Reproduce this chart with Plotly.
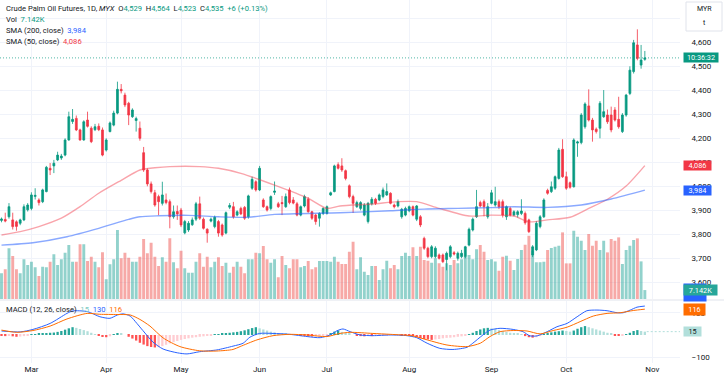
import pandas as pd
import plotly.graph_objects as go

# ---------------- data ----------------
opens = [3858,3862,3873,3860,3852,3846,3860,3902,3908,3958,
         3943,3936,3978,4075,4085,4110,4118,4130,4193,4270,
         4283,4235,4193,4276,4242,4236,4250,4235,4151,4228,
         4255,4305,4404,4380,4346,4290,4274,4242,4140,4068,
         4010,3973,3957,3929,3943,3936,3873,3895,3901,3806,
         3818,3840,3863,3927,3863,3821,3855,3832,3853,3839,
         3805,3913,3915,3880,3908,3912,3873,3992,4019,3985,
         3943,3915,3908,3975,3927,3932,3915,3985,3943,3927,
         3880,3918,3946,3894,3880,3867,3887,3887,3964,3978,
         4090,4085,4065,4002,3957,3915,3908,3880,3853,3927,
         3946,3943,3957,3964,3971,3922,3918,3873,3880,3898,
         3915,3863,3873,3783,3742,3707,3707,3714,3714,3695,
         3707,3723,3700,3707,3707,3755,3818,3873,3932,3936,
         3873,3929,3922,3936,3936,3873,3908,3880,3882,3887,
         3887,3860,3714,3735,3832,3873,3983,3978,3992,4033,
         4154,4040,4015,3998,4180,4182,4248,4335,4276,4238,
         4242,4290,4297,4297,4318,4279,4228,4297,4387,4478,
         4589,4505,4529]
highs = [3870,3890,3930,3890,3858,3865,3925,3930,3975,3992,
         3950,3990,4085,4097,4110,4144,4135,4200,4311,4322,
         4295,4240,4275,4311,4250,4260,4262,4245,4200,4270,
         4315,4436,4426,4390,4352,4325,4290,4270,4164,4075,
         4020,3985,3965,4019,3970,3945,3920,3920,3910,3860,
         3855,3870,3935,3957,3870,3825,3870,3878,3860,3845,
         3895,3930,3935,3900,3915,3918,3965,4040,4025,4085,
         3950,3920,3962,4020,3935,3960,3970,3995,3955,3935,
         3920,3965,3955,3898,3885,3892,3912,3920,3978,4090,
         4100,4117,4070,4008,3965,3940,3938,3930,3935,3955,
         3952,3970,3995,4012,3975,3928,3945,3910,3915,3920,
         3920,3922,3880,3790,3748,3755,3750,3720,3720,3728,
         3755,3730,3728,3735,3752,3828,3870,3985,3940,3945,
         3930,3985,3998,3945,3945,3920,3915,3900,3900,3946,
         3895,3865,3755,3855,3880,3950,3990,4020,4045,4160,
         4196,4061,4020,4200,4190,4305,4350,4404,4285,4245,
         4355,4401,4320,4332,4330,4373,4305,4385,4500,4610,
         4654,4589,4564]
lows = [3850,3850,3865,3820,3815,3838,3855,3895,3900,3945,
        3920,3930,3975,4047,4055,4105,4110,4125,4190,4260,
        4230,4190,4190,4245,4180,4230,4230,4125,4145,4225,
        4250,4300,4387,4330,4255,4285,4228,4190,4060,4000,
        3970,3915,3880,3920,3925,3825,3865,3860,3830,3800,
        3810,3835,3855,3860,3820,3765,3850,3825,3790,3790,
        3800,3905,3865,3875,3880,3860,3865,3985,3978,3980,
        3910,3895,3900,3964,3910,3880,3910,3925,3925,3875,
        3875,3912,3890,3860,3840,3832,3880,3882,3960,3975,
        4070,4060,4025,3950,3889,3910,3900,3875,3845,3920,
        3922,3938,3950,3960,3925,3908,3912,3865,3875,3892,
        3875,3855,3830,3735,3700,3700,3700,3695,3680,3650,
        3700,3712,3690,3700,3700,3750,3812,3868,3912,3875,
        3865,3925,3915,3905,3870,3860,3875,3875,3870,3880,
        3840,3805,3705,3730,3825,3868,3965,3972,3985,4028,
        4035,3985,3990,3995,4123,4175,4240,4270,4186,4220,
        4200,4285,4260,4225,4270,4240,4222,4290,4380,4470,
        4525,4490,4523]
closes = [3864,3855,3915,3832,3833,3860,3915,3922,3964,3962,
          3932,3985,4079,4068,4096,4130,4126,4193,4290,4279,
          4235,4193,4269,4250,4186,4248,4236,4130,4193,4264,
          4305,4404,4398,4339,4297,4318,4282,4200,4068,4010,
          3978,3922,3936,3964,3932,3873,3894,3885,3839,3853,
          3846,3860,3927,3867,3825,3805,3863,3871,3805,3797,
          3890,3920,3873,3894,3885,3867,3960,4029,3985,4075,
          3915,3901,3957,3980,3915,3928,3957,3932,3930,3880,
          3915,3957,3894,3867,3853,3887,3908,3915,3973,4085,
          4075,4068,4033,3957,3929,3932,3932,3922,3929,3946,
          3929,3964,3985,3978,3929,3915,3936,3904,3908,3915,
          3880,3918,3839,3742,3707,3748,3742,3700,3686,3721,
          3748,3718,3721,3721,3748,3821,3863,3915,3918,3915,
          3915,3973,3936,3915,3880,3915,3880,3894,3894,3897,
          3848,3811,3748,3846,3873,3943,3971,3998,4040,4151,
          4040,3992,3996,4193,4185,4297,4343,4276,4235,4228,
          4346,4311,4269,4235,4276,4248,4297,4380,4484,4598,
          4533,4526,4535]
volumes_k = [20.6,23.8,40.6,34.4,23.8,20.6,31.8,27.2,29.8,25.4,
             18.4,25.8,25.4,29.8,35.8,27.2,31.8,37.0,43.2,29.8,
             29.8,43.8,43.8,30.4,33.8,29.8,25.4,37.4,15.8,27.8,
             31.8,55.2,32.6,37.0,33.0,29.8,29.8,33.8,48.0,36.6,
             45.0,33.8,26.4,33.4,29.8,48.6,29.4,24.6,38.6,24.6,
             21.0,21.0,29.8,36.6,25.8,33.8,25.4,29.8,33.4,26.4,
             29.0,21.0,25.8,29.8,25.8,20.6,31.8,31.8,37.0,36.6,
             42.4,31.8,29.0,31.8,17.4,34.4,27.2,24.6,31.8,31.8,
             25.4,26.4,30.4,23.8,25.4,30.4,30.4,30.4,29.8,33.8,
             29.8,28.0,28.0,37.8,45.8,23.8,33.4,21.8,19.2,26.4,
             26.4,15.2,23.8,30.6,24.6,27.2,23.8,34.4,37.0,34.4,
             41.4,34.4,41.8,31.2,30.6,29.0,32.6,28.6,25.8,28.6,
             27.2,31.2,28.6,31.8,33.8,35.2,31.8,39.8,43.2,37.8,
             31.2,31.8,30.0,22.6,33.8,34.6,30.6,23.2,32.0,39.2,
             43.4,50.6,38.6,29.4,29.4,29.8,39.2,40.8,41.8,42.6,
             53.3,28.5,28.5,54.6,49.8,46.6,39.2,52.0,42.6,46.6,
             39.2,46.6,37.3,48.0,46.6,49.3,28.0,39.2,42.6,47.2,
             48.5,30.1,7.142]
macd_hist = [-4,-5,-3,-6,-8,-7,-5,-3,2,4,
             6,7,9,10,11,14,18,24,30,35,
             32,27,22,17,10,4,-4,-9,-10,-6,
             2,6,5,0,-8,-16,-25,-35,-43,-50,
             -54,-56,-55,-50,-44,-38,-32,-27,-22,-18,
             -15,-12,-10,-8,-6,-4,-2,2,4,6,
             8,10,12,14,17,21,26,31,35,30,
             25,20,15,12,9,7,5,3,2,0,
             -2,-4,-6,-7,-6,-5,-3,-1,8,15,
             20,14,9,5,0,-3,-5,-6,-4,-5,
             -4,-3,-2,-1,0,1,0,-1,-2,-3,
             -5,-10,-15,-18,-20,-22,-20,-18,-15,-13,
             -12,-10,-8,-6,-3,3,10,18,25,30,
             32,30,27,22,18,14,10,7,5,3,
             -5,-10,-12,-10,-5,3,8,12,15,17,
             20,18,15,20,28,35,40,35,30,25,
             20,15,10,5,-2,-4,-3,3,10,18,
             22,18,15]

# indicator lines, read at points along the bar index
sma50_x = [0,5,10,16,21,26,32,37,41,45,53,58,64,73,82,87,90.5,99,106,111,117,125,131,137,141,146,152,157,162,167,172]
sma50_v = [3797,3811,3832,3867,3915,3971,4025,4068,4077,4082,4082,4075,4054,4005,3950,3908,3918,3926,3936,3936,3908,3876,3880,3876,3852,3860,3871,3908,3946,4001,4086]
sma200_x = [0,8.4,17.5,26,34,37,42,50,58,66,73,90.5,104,113,122,131,137,146,155,163,172]
sma200_v = [3755,3765,3790,3825,3862,3873,3877,3879,3873,3871,3883,3890,3898,3905,3908,3911,3915,3912,3922,3947,3984]
macd_x = [0,5,8.4,13,17.5,19,23,26.3,29,31,32.5,34.4,36.2,37.8,40.5,43.2,47,49.6,53,57.6,61.9,64.6,66.4,69,72.6,77,81.7,85.2,87.8,89.7,91.3,93.2,95.9,99.3,103.9,108.4,111,113.8,117.2,120.7,124.5,126,128.7,130.6,133.3,136.8,139.4,141.3,143.2,145.9,148.5,151.2,153.9,156.5,159.2,161.9,164.6,166.2,168.1,169.9,172]
macd_v = [18,14,25,52,97,108,105,82,75,90,95,85,52,20,-32,-63,-80,-85,-75,-67,-50,-37,-10,7,7,3,-7,-12,0,19,27,15,0,-3,0,-3,-12,-37,-60,-65,-55,-37,0,22,30,25,15,-4,-4,15,37,52,82,109,112,109,100,100,112,125,130]
signal_x = [0,4.1,8.4,13,17.5,22.9,26.3,30.9,34.4,37,39.7,43.2,47.7,53,57.6,61.9,63.8,68.3,72.6,77.1,81.7,87,90.5,93.2,99.3,103.9,110,113.8,119.1,124.5,128,130.6,133.3,136.8,140.5,144,147.5,151.2,154.7,158.2,161.9,165.4,168.9,172]
signal_v = [22,12,20,40,72,97,93,92,90,70,40,-13,-52,-71,-72,-65,-52,-22,-3,3,0,-7,7,12,7,3,-4,-22,-45,-52,-37,-7,15,20,18,5,20,35,60,85,97,100,110,116]

holidays = ["2024-03-28","2024-04-10","2024-04-11","2024-05-01","2024-05-22",
            "2024-06-03","2024-06-17","2024-07-08","2024-09-16"]

# ---------------- styling ----------------
UP, DN = "#089981", "#f23645"
TXT = "#131722"
GRID = "#f0f3fa"
FONT = "Roboto"

n = len(closes)
idx = list(range(n))
hol = set(pd.to_datetime(holidays))
days = [d for d in pd.bdate_range("2024-02-20", "2024-10-30") if d not in hol][:n]
tickvals, ticktext = [], []
for i in range(1, len(days)):
    if days[i].month != days[i - 1].month:
        tickvals.append(i)
        ticktext.append(days[i].strftime("%b"))
tickvals.append(n + 1)
ticktext.append("Nov")

vol_colors = ["rgba(38,166,154,0.5)" if c >= o else "rgba(239,83,80,0.5)" for o, c in zip(opens, closes)]
hist_colors = []
prev = 0
for h in macd_hist:
    if h >= 0:
        hist_colors.append("#26a69a" if h > prev else "#b2dfdb")
    else:
        hist_colors.append("#ff5252" if h < prev else "#ffcdd2")
    prev = h

PH = 363.0   # plot area height in px
PW = 680.0   # plot area width in px
def py(p):
    return (PH - p) / PH
def pxp(p):
    return p / PW

fig = go.Figure()
fig.add_trace(go.Bar(x=idx, y=volumes_k, marker=dict(color=vol_colors, line=dict(width=0)),
                     width=0.78, xaxis="x", yaxis="y", hoverinfo="skip"))
fig.add_trace(go.Candlestick(x=idx, open=opens, high=highs, low=lows, close=closes,
                             increasing=dict(line=dict(color=UP, width=0.8), fillcolor=UP),
                             decreasing=dict(line=dict(color=DN, width=0.8), fillcolor=DN),
                             whiskerwidth=0, xaxis="x", yaxis="y2", hoverinfo="skip"))
fig.add_trace(go.Scatter(x=sma50_x, y=sma50_v, mode="lines", xaxis="x", yaxis="y2",
                         line=dict(color="rgba(242,54,69,0.45)", width=1.4, shape="spline", smoothing=0.7)))
fig.add_trace(go.Scatter(x=sma200_x, y=sma200_v, mode="lines", xaxis="x", yaxis="y2",
                         line=dict(color="rgba(41,98,255,0.55)", width=1.4, shape="spline", smoothing=0.7)))
fig.add_trace(go.Bar(x=idx, y=macd_hist, marker=dict(color=hist_colors, line=dict(width=0)),
                     width=0.62, xaxis="x2", yaxis="y3", hoverinfo="skip"))
fig.add_trace(go.Scatter(x=macd_x, y=macd_v, mode="lines", xaxis="x2", yaxis="y3",
                         line=dict(color="#2962ff", width=1, shape="spline", smoothing=0.7)))
fig.add_trace(go.Scatter(x=signal_x, y=signal_v, mode="lines", xaxis="x2", yaxis="y3",
                         line=dict(color="#ff6d00", width=1, shape="spline", smoothing=0.7)))

xr = [-0.4, 181.4]
tf = dict(family=FONT, size=8, color=TXT)
fig.update_layout(
    width=724, height=377,
    margin=dict(l=0, r=44, t=0, b=14),
    paper_bgcolor="white", plot_bgcolor="white",
    showlegend=False, font=dict(family=FONT, color=TXT),
    bargap=0.2,
    xaxis=dict(domain=[0, 1], anchor="y", range=xr, tickvals=tickvals, showticklabels=False,
               showgrid=True, gridcolor=GRID, zeroline=False, showline=False,
               rangeslider=dict(visible=False), fixedrange=True),
    yaxis=dict(domain=[py(299), 1], range=[0, 239.2], visible=False, showgrid=False, fixedrange=True),
    yaxis2=dict(overlaying="y", side="right", anchor="x", range=[3530.4, 4776.25],
                tickvals=list(range(3600, 4800, 100)), tickformat=",d",
                showgrid=True, gridcolor=GRID, zeroline=False, ticks="outside", ticklen=9,
                tickcolor="rgba(0,0,0,0)", tickfont=tf, fixedrange=True),
    xaxis2=dict(domain=[0, 1], anchor="y3", matches="x", range=xr, tickvals=tickvals, ticktext=ticktext,
                showgrid=True, gridcolor=GRID, zeroline=False, showline=False, ticks="",
                tickfont=tf, fixedrange=True, rangeslider=dict(visible=False)),
    yaxis3=dict(domain=[0, py(301)], side="right", anchor="x2", range=[-125.8, 152.7],
                tickvals=[-100, 100], showgrid=True, gridcolor=GRID, zeroline=False,
                ticks="outside", ticklen=9, tickcolor="rgba(0,0,0,0)", tickfont=tf, fixedrange=True),
)

shapes = [
    dict(type="line", xref="paper", yref="paper", x0=0, x1=724 / PW, y0=py(300), y1=py(300),
         line=dict(color="#e0e3eb", width=1)),
    dict(type="line", xref="paper", yref="y2", x0=0, x1=1, y0=closes[-1], y1=closes[-1],
         line=dict(color="rgba(8,153,129,0.7)", width=1, dash="1px,2px")),
    dict(type="line", xref="x2", yref="y3", x0=n - 0.5, x1=xr[1], y0=macd_hist[-1], y1=macd_hist[-1],
         line=dict(color="#b2dfdb", width=1, dash="2px,2px")),
    dict(type="rect", xref="paper", yref="paper", x0=pxp(686), x1=pxp(722), y0=py(31), y1=py(2),
         line=dict(color="#e0e3eb", width=1), fillcolor="white"),
]
fig.update_layout(shapes=shapes)

def span(t, c):
    return "<span style='color:%s'>%s</span>" % (c, t)

S = "\u00a0"
hdr = dict(family=FONT, size=7.6, color=TXT)
ann = []
row1 = ("Crude Palm Oil Futures, 1D, <i>MYX</i>" + S * 2 + "O" + span("4,529", UP) + S * 2 + "H" + span("4,564", UP)
        + S * 2 + "L" + span("4,523", UP) + S * 2 + "C" + span("4,535", UP) + S * 2 + span("+6 (+0.13%)", UP))
for text, ypx in [(row1, 8.3), ("Vol" + S * 2 + span("7.142K", UP), 19.5),
                  ("SMA (200, close)" + S * 2 + span("3,984", "#2962ff"), 31),
                  ("SMA (50, close)" + S * 2 + span("4,086", DN), 41.5),
                  ("MACD (12, 26, close)" + S * 2 + span("15", "#80cbc4") + S * 2 + span("130", "#2962ff")
                   + S * 2 + span("116", "#ff6d00"), 309)]:
    ann.append(dict(text=text, xref="paper", yref="paper", x=pxp(4), y=py(ypx), xanchor="left",
                    yanchor="middle", showarrow=False, font=hdr))

ann.append(dict(text="MYR", xref="paper", yref="paper", x=pxp(704), y=py(9.5), xanchor="center",
                yanchor="middle", showarrow=False, font=dict(family=FONT, size=7, color=TXT)))
ann.append(dict(text="t", xref="paper", yref="paper", x=pxp(704), y=py(23), xanchor="center",
                yanchor="middle", showarrow=False, font=dict(family=FONT, size=7, color=TXT)))

def badge(text, yref, y, bg, w, fg="white", h=9):
    return dict(text=text, xref="paper", x=pxp(683), xanchor="left", yref=yref, y=y, yanchor="middle",
                showarrow=False, bgcolor=bg, width=w, height=h, borderpad=0, align="center",
                font=dict(family=FONT, size=7.3, color=fg))

ann.append(badge("10:36:32", "y2", closes[-1], UP, 34))
ann.append(badge("4,086", "y2", sma50_v[-1], DN, 27))
ann.append(badge("3,984", "y2", sma200_v[-1], "#2962ff", 27))
ann.append(badge("130", "paper", py(292.5), "#2962ff", 22, h=17))
ann.append(badge("7.142K", "y", volumes_k[-1], "#26a69a", 33, h=10))
ann.append(badge("116", "y3", signal_v[-1], "#ff6d00", 21, h=11))
ann.append(badge("15", "y3", macd_hist[-1], "#b2dfdb", 17, fg=TXT))
fig.update_layout(annotations=ann)

fig.write_html("out.html", config={"displayModeBar": False},
               post_script="document.body.style.margin='0';document.body.style.overflow='hidden';")
